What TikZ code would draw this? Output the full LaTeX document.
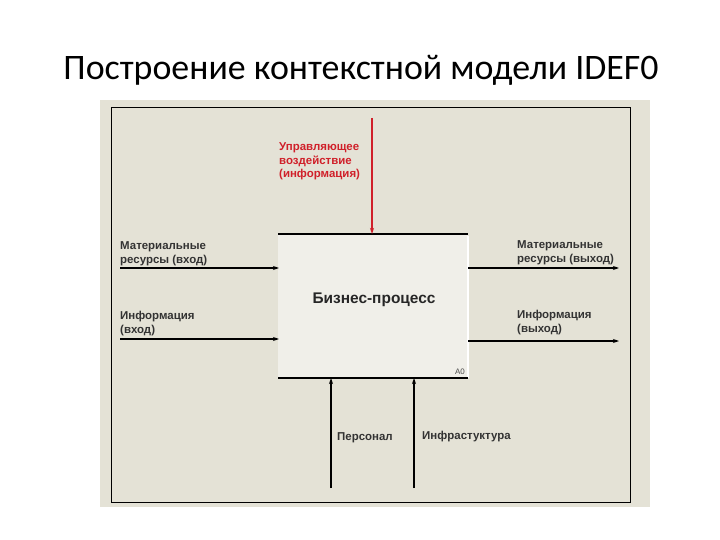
\documentclass[tikz,border=0pt]{standalone}
\usepackage{fontspec}
\setmainfont{Carlito}
\newfontfamily\arial{Liberation Sans}
\usetikzlibrary{arrows.meta}
\definecolor{panel}{HTML}{E4E2D6}
\definecolor{ctrl}{HTML}{D0202A}
\begin{document}
\begin{tikzpicture}[x=1bp,y=-1bp,
  lbl/.style={font=\arial\bfseries\fontsize{11.5}{14}\selectfont, text=black!80, align=left, inner sep=0pt},
  arr/.style={-{Stealth[length=6bp,width=4bp]}, line width=1.1bp}]
\useasboundingbox (0,0) rectangle (720,540);
\node (title) at (361,70) {\fontsize{36}{42}\selectfont Построение контекстной модели IDEF0};
\fill[panel] (100,100) rectangle (650,507);
\node[draw=black, line width=0.8bp, minimum width=519bp, minimum height=395bp, inner sep=0pt] (frame) at (370.5,304.5) {};
\fill[panel!55!white] (278,234) rectangle (468,378);
\draw[white, line width=2bp] (468,236) -- (468,378);
\coordinate (tl) at (278,234); \coordinate (tr) at (468,234);
\coordinate (bl) at (278,378); \coordinate (br) at (468,378);
\draw[line width=1.1bp] (tl) -- (tr);
\draw[line width=1.1bp] (bl) -- (br);
\node[font=\arial\bfseries\fontsize{15.5}{18}\selectfont, text=black!85] (proc) at (374,300) {Бизнес-процесс};
\node[font=\arial\fontsize{8}{9}\selectfont, text=black!70] (a0) at (460,372) {A0};
% control
\coordinate (c0) at (372,118); \coordinate (c1) at (372,234);
\draw[arr, ctrl] (c0) -- (c1);
\node[lbl, text=ctrl, anchor=north west] (ctl) at (279,142) {Управляющее\\воздействие\\(информация)};
% inputs
\coordinate (i1s) at (120,268); \coordinate (i1e) at (279,268);
\coordinate (i2s) at (120,339); \coordinate (i2e) at (279,339);
\draw[arr] (i1s) -- (i1e);
\draw[arr] (i2s) -- (i2e);
\node[lbl, anchor=south west] (in1) at (120,266) {Материальные\\ресурсы (вход)};
\node[lbl, anchor=south west] (in2) at (120,336) {Информация\\(вход)};
% outputs
\coordinate (o1s) at (468,268); \coordinate (o1e) at (619,268);
\coordinate (o2s) at (468,341); \coordinate (o2e) at (619,341);
\draw[arr] (o1s) -- (o1e);
\draw[arr] (o2s) -- (o2e);
\node[lbl, anchor=south west] (out1) at (517,265) {Материальные\\ресурсы (выход)};
\node[lbl, anchor=south west] (out2) at (517,335) {Информация\\(выход)};
% mechanisms
\coordinate (m1s) at (331,488); \coordinate (m1e) at (331,378);
\coordinate (m2s) at (414,488); \coordinate (m2e) at (414,378);
\draw[arr] (m1s) -- (m1e);
\draw[arr] (m2s) -- (m2e);
\node[lbl, anchor=west] (mech1) at (337,438) {Персонал};
\node[lbl, anchor=west] (mech2) at (422,437) {Инфрастуктура};
\end{tikzpicture}
\end{document}
